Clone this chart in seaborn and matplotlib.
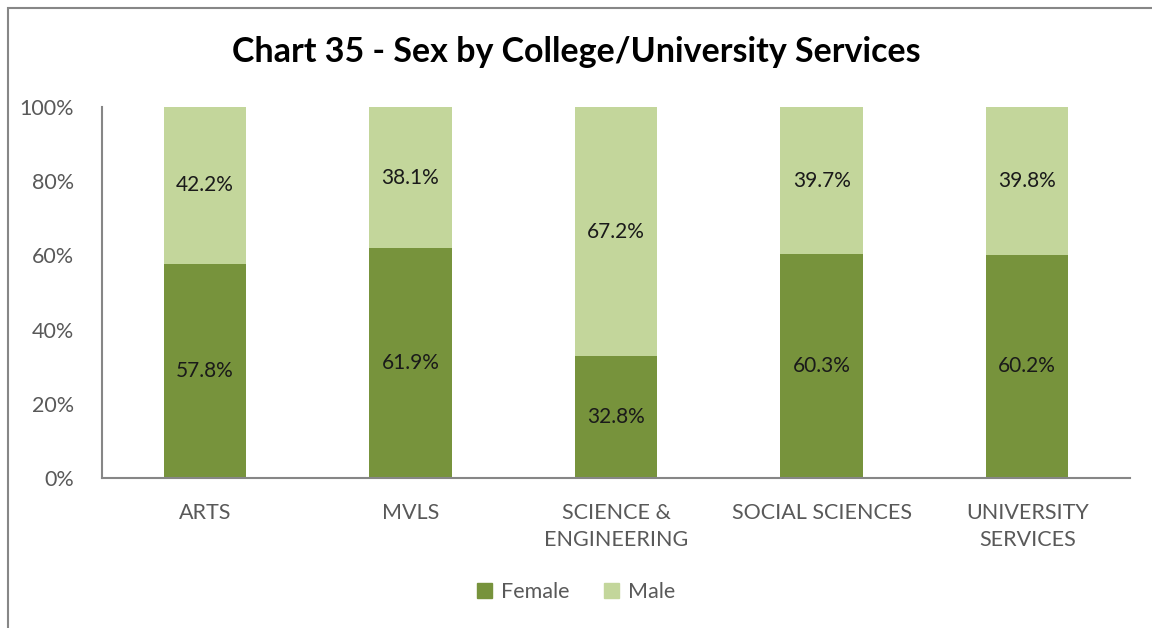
import pandas as pd
import matplotlib.pyplot as plt
import matplotlib.patches as mpatches
from matplotlib.ticker import PercentFormatter
import seaborn as sns

categories = ['ARTS', 'MVLS', 'SCIENCE &\nENGINEERING', 'SOCIAL SCIENCES', 'UNIVERSITY\nSERVICES']
female = [57.8, 61.9, 32.8, 60.3, 60.2]
male = [42.2, 38.1, 67.2, 39.7, 39.8]

df = pd.DataFrame({'Category': categories, 'Female': female, 'Male': male})
df['Total'] = df['Female'] + df['Male']

female_color = '#77933C'
male_color = '#C3D69B'

sns.set_style('white')
plt.rcParams['font.family'] = ['Lato', 'DejaVu Sans']

fig = plt.figure(figsize=(11.52, 6.28), dpi=100)
ax = fig.add_axes([102 / 1152, 1 - 478 / 628, 1028 / 1152, 371 / 628])

# stacked: male drawn as the full stack, female over it
sns.barplot(x='Category', y='Total', data=df, color=male_color, width=0.4,
            saturation=1, linewidth=0, ax=ax)
sns.barplot(x='Category', y='Female', data=df, color=female_color, width=0.4,
            saturation=1, linewidth=0, ax=ax)

for i, (f, m) in enumerate(zip(female, male)):
    ax.text(i, f / 2, f'{f:.1f}%', ha='center', va='center', fontsize=15, color='#1a1a1a')
    ax.text(i, f + m / 2, f'{m:.1f}%', ha='center', va='center', fontsize=15, color='#1a1a1a')

ax.set_ylim(0, 100)
ax.set_xlim(-0.5, 4.5)
ax.set_yticks([0, 20, 40, 60, 80, 100])
ax.yaxis.set_major_formatter(PercentFormatter(decimals=0))
ax.set_xlabel('')
ax.set_ylabel('')
ax.tick_params(axis='y', labelsize=15.5, labelcolor='#595959', length=0, pad=20)
ax.tick_params(axis='x', labelsize=15.5, labelcolor='#595959', length=0, pad=18)
for lbl in ax.get_xticklabels():
    lbl.set_linespacing(1.45)

for side in ['top', 'right']:
    ax.spines[side].set_visible(False)
for side in ['left', 'bottom']:
    ax.spines[side].set_color('#868686')
    ax.spines[side].set_linewidth(1.5)

fig.text(0.5, 1 - 52 / 628, 'Chart 35 - Sex by College/University Services',
         ha='center', va='center', fontsize=24.5, fontweight='bold', color='black')

handles = [mpatches.Patch(color=female_color, label='Female'),
           mpatches.Patch(color=male_color, label='Male')]
leg = fig.legend(handles=handles, loc='center', bbox_to_anchor=(0.5, 1 - 592 / 628),
                 ncol=2, frameon=False, fontsize=15.5, handlelength=0.7, handleheight=0.7,
                 handletextpad=0.4, columnspacing=1.6)
for t in leg.get_texts():
    t.set_color('#595959')

# outer chart frame (cropped on right and bottom)
fig.patches.append(mpatches.Rectangle((8 / 1152, -0.1), 1.2, 1 - 8 / 628 + 0.1,
                                      transform=fig.transFigure, fill=False,
                                      edgecolor='#878787', linewidth=1.5))

plt.savefig('out.png', dpi=100)
